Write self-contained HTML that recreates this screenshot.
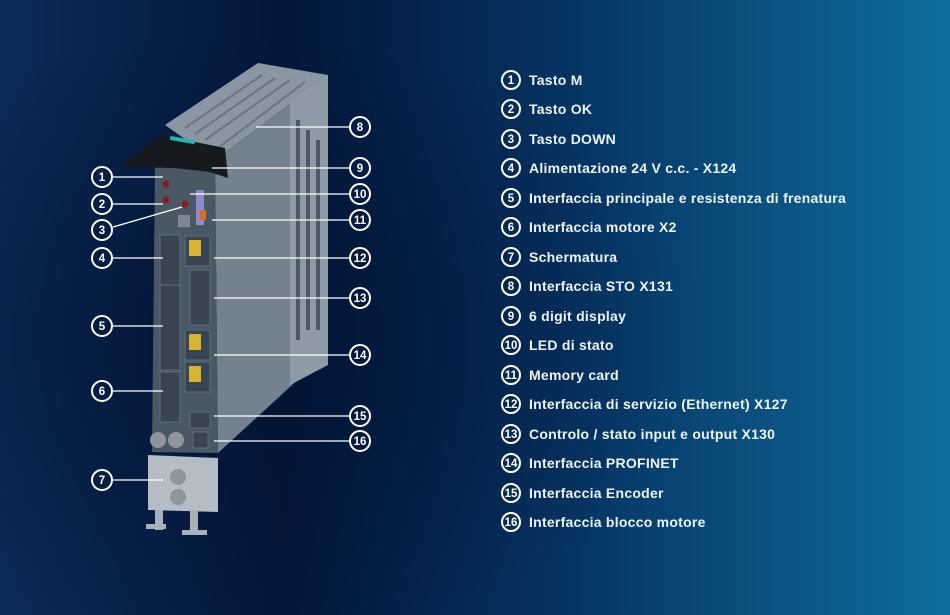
<!DOCTYPE html>
<html><head><meta charset="utf-8"><style>
html,body{margin:0;padding:0;width:950px;height:615px;overflow:hidden}
body{background:#06203f}
svg{display:block}
.t{font-family:"Liberation Sans",sans-serif;font-weight:bold;font-size:14px;letter-spacing:0.25px;fill:#eef3f8}
.n{font-family:"Liberation Sans",sans-serif;font-weight:bold;font-size:11.5px;fill:#fff;text-anchor:middle}
.c{fill:none;stroke:#fff;stroke-width:2}
.l{stroke:#fff;stroke-width:1.3}
</style></head><body>
<svg width="950" height="615" viewBox="0 0 950 615" xmlns="http://www.w3.org/2000/svg">
<defs>
<linearGradient id="bg" x1="0" y1="0" x2="1" y2="0">
<stop offset="0" stop-color="#0c2c58"/><stop offset="0.3" stop-color="#04163a"/><stop offset="0.6" stop-color="#063463"/><stop offset="1" stop-color="#0f6d9d"/>
</linearGradient>
<radialGradient id="vg" cx="0.25" cy="0.55" r="0.5"><stop offset="0" stop-color="#021030" stop-opacity="0.6"/><stop offset="1" stop-color="#021030" stop-opacity="0"/></radialGradient>
</defs>
<rect width="950" height="615" fill="url(#bg)"/>
<rect width="950" height="615" fill="url(#vg)"/>
<polygon points="165,125 258,63 328,75 215,160" fill="#8a96a2"/>
<g stroke="#6a7683" stroke-width="2">
<line x1="185" y1="128" x2="262" y2="75"/><line x1="195" y1="134" x2="275" y2="78"/><line x1="205" y1="140" x2="290" y2="80"/><line x1="218" y1="148" x2="305" y2="82"/>
</g>
<polygon points="215,160 328,75 328,352 218,453" fill="#74828f"/>
<polygon points="290,100 328,75 328,365 290,385" fill="#8e9aa5"/>
<g fill="#4c5866"><rect x="296" y="120" width="4" height="220"/><rect x="306" y="130" width="4" height="200"/><rect x="316" y="140" width="4" height="190"/></g>
<polygon points="155,165 215,160 218,453 152,452" fill="#4a5765"/>
<polygon points="120,167 160,135 225,148 228,178 210,172 175,168" fill="#16191d"/>
<rect x="170" y="138" width="25" height="4" fill="#2bb3b0" transform="rotate(10 182 140)"/>
<g fill="#3a4552" stroke="#5f6c79">
<rect x="160" y="235" width="20" height="50"/><rect x="160" y="285" width="20" height="85"/><rect x="160" y="372" width="20" height="50"/>
<rect x="185" y="236" width="25" height="30"/><rect x="190" y="270" width="20" height="55"/><rect x="185" y="330" width="25" height="30"/><rect x="185" y="362" width="25" height="30"/><rect x="190" y="412" width="20" height="16"/><rect x="193" y="432" width="15" height="16"/>
</g>
<g fill="#d8b331"><rect x="189" y="240" width="12" height="16"/><rect x="189" y="334" width="12" height="16"/><rect x="189" y="366" width="12" height="16"/></g>
<rect x="196" y="190" width="8" height="35" fill="#8b8cc8"/><rect x="200" y="210" width="6" height="10" fill="#d86a2a"/>
<g fill="#8a1e1e"><circle cx="166" cy="184" r="3.5"/><circle cx="166" cy="200" r="3.5"/><circle cx="185" cy="204" r="3.5"/></g>
<rect x="178" y="215" width="12" height="12" fill="#7d8893"/>
<polygon points="148,455 218,458 218,512 148,510" fill="#b6bcc3"/>
<g fill="#8e959c"><circle cx="158" cy="440" r="8"/><circle cx="176" cy="440" r="8"/><circle cx="178" cy="477" r="8"/><circle cx="178" cy="497" r="8"/></g>
<g fill="#a9b0b7"><rect x="155" y="510" width="8" height="20"/><rect x="190" y="510" width="8" height="25"/><rect x="146" y="524" width="20" height="5"/><rect x="182" y="530" width="25" height="5"/></g>
<g>
<line class="l" x1="113" y1="177" x2="163" y2="177"/><line class="l" x1="113" y1="204" x2="163" y2="204"/><line class="l" x1="113" y1="227" x2="182" y2="207"/>
<line class="l" x1="113" y1="258" x2="163" y2="258"/><line class="l" x1="113" y1="326" x2="163" y2="326"/><line class="l" x1="113" y1="391" x2="163" y2="391"/><line class="l" x1="113" y1="480" x2="163" y2="480"/>
<circle class="c" cx="102" cy="177" r="10"/><text class="n" x="102" y="181">1</text>
<circle class="c" cx="102" cy="204" r="10"/><text class="n" x="102" y="208">2</text>
<circle class="c" cx="102" cy="230" r="10"/><text class="n" x="102" y="234">3</text>
<circle class="c" cx="102" cy="258" r="10"/><text class="n" x="102" y="262">4</text>
<circle class="c" cx="102" cy="326" r="10"/><text class="n" x="102" y="330">5</text>
<circle class="c" cx="102" cy="391" r="10"/><text class="n" x="102" y="395">6</text>
<circle class="c" cx="102" cy="480" r="10"/><text class="n" x="102" y="484">7</text>
</g>
<g>
<line class="l" x1="256" y1="127" x2="349" y2="127"/><line class="l" x1="212" y1="168" x2="349" y2="168"/><line class="l" x1="190" y1="194" x2="349" y2="194"/><line class="l" x1="212" y1="220" x2="349" y2="220"/>
<line class="l" x1="214" y1="258" x2="349" y2="258"/><line class="l" x1="214" y1="298" x2="349" y2="298"/><line class="l" x1="214" y1="355" x2="349" y2="355"/><line class="l" x1="214" y1="416" x2="349" y2="416"/><line class="l" x1="214" y1="441" x2="349" y2="441"/>
<circle class="c" cx="360" cy="127" r="10"/><text class="n" x="360" y="131">8</text>
<circle class="c" cx="360" cy="168" r="10"/><text class="n" x="360" y="172">9</text>
<circle class="c" cx="360" cy="194" r="10"/><text class="n" x="360" y="198">10</text>
<circle class="c" cx="360" cy="220" r="10"/><text class="n" x="360" y="224">11</text>
<circle class="c" cx="360" cy="258" r="10"/><text class="n" x="360" y="262">12</text>
<circle class="c" cx="360" cy="298" r="10"/><text class="n" x="360" y="302">13</text>
<circle class="c" cx="360" cy="355" r="10"/><text class="n" x="360" y="359">14</text>
<circle class="c" cx="360" cy="416" r="10"/><text class="n" x="360" y="420">15</text>
<circle class="c" cx="360" cy="441" r="10"/><text class="n" x="360" y="445">16</text>
</g>
<g>
<circle class="c" cx="511" cy="80" r="9"/><text class="n" x="511" y="84">1</text><text class="t" x="529" y="85">Tasto M</text>
<circle class="c" cx="511" cy="109" r="9"/><text class="n" x="511" y="113">2</text><text class="t" x="529" y="114">Tasto OK</text>
<circle class="c" cx="511" cy="139" r="9"/><text class="n" x="511" y="143">3</text><text class="t" x="529" y="144">Tasto DOWN</text>
<circle class="c" cx="511" cy="168" r="9"/><text class="n" x="511" y="172">4</text><text class="t" x="529" y="173">Alimentazione 24 V c.c. - X124</text>
<circle class="c" cx="511" cy="198" r="9"/><text class="n" x="511" y="202">5</text><text class="t" x="529" y="203">Interfaccia principale e resistenza di frenatura</text>
<circle class="c" cx="511" cy="227" r="9"/><text class="n" x="511" y="231">6</text><text class="t" x="529" y="232">Interfaccia motore X2</text>
<circle class="c" cx="511" cy="257" r="9"/><text class="n" x="511" y="261">7</text><text class="t" x="529" y="262">Schermatura</text>
<circle class="c" cx="511" cy="286" r="9"/><text class="n" x="511" y="290">8</text><text class="t" x="529" y="291">Interfaccia STO X131</text>
<circle class="c" cx="511" cy="316" r="9"/><text class="n" x="511" y="320">9</text><text class="t" x="529" y="321">6 digit display</text>
<circle class="c" cx="511" cy="345" r="9"/><text class="n" x="511" y="349">10</text><text class="t" x="529" y="350">LED di stato</text>
<circle class="c" cx="511" cy="375" r="9"/><text class="n" x="511" y="379">11</text><text class="t" x="529" y="380">Memory card</text>
<circle class="c" cx="511" cy="404" r="9"/><text class="n" x="511" y="408">12</text><text class="t" x="529" y="409">Interfaccia di servizio (Ethernet) X127</text>
<circle class="c" cx="511" cy="434" r="9"/><text class="n" x="511" y="438">13</text><text class="t" x="529" y="439">Controlo / stato input e output X130</text>
<circle class="c" cx="511" cy="463" r="9"/><text class="n" x="511" y="467">14</text><text class="t" x="529" y="468">Interfaccia PROFINET</text>
<circle class="c" cx="511" cy="493" r="9"/><text class="n" x="511" y="497">15</text><text class="t" x="529" y="498">Interfaccia Encoder</text>
<circle class="c" cx="511" cy="522" r="9"/><text class="n" x="511" y="526">16</text><text class="t" x="529" y="527">Interfaccia blocco motore</text>
</g>
</svg>
</body></html>
